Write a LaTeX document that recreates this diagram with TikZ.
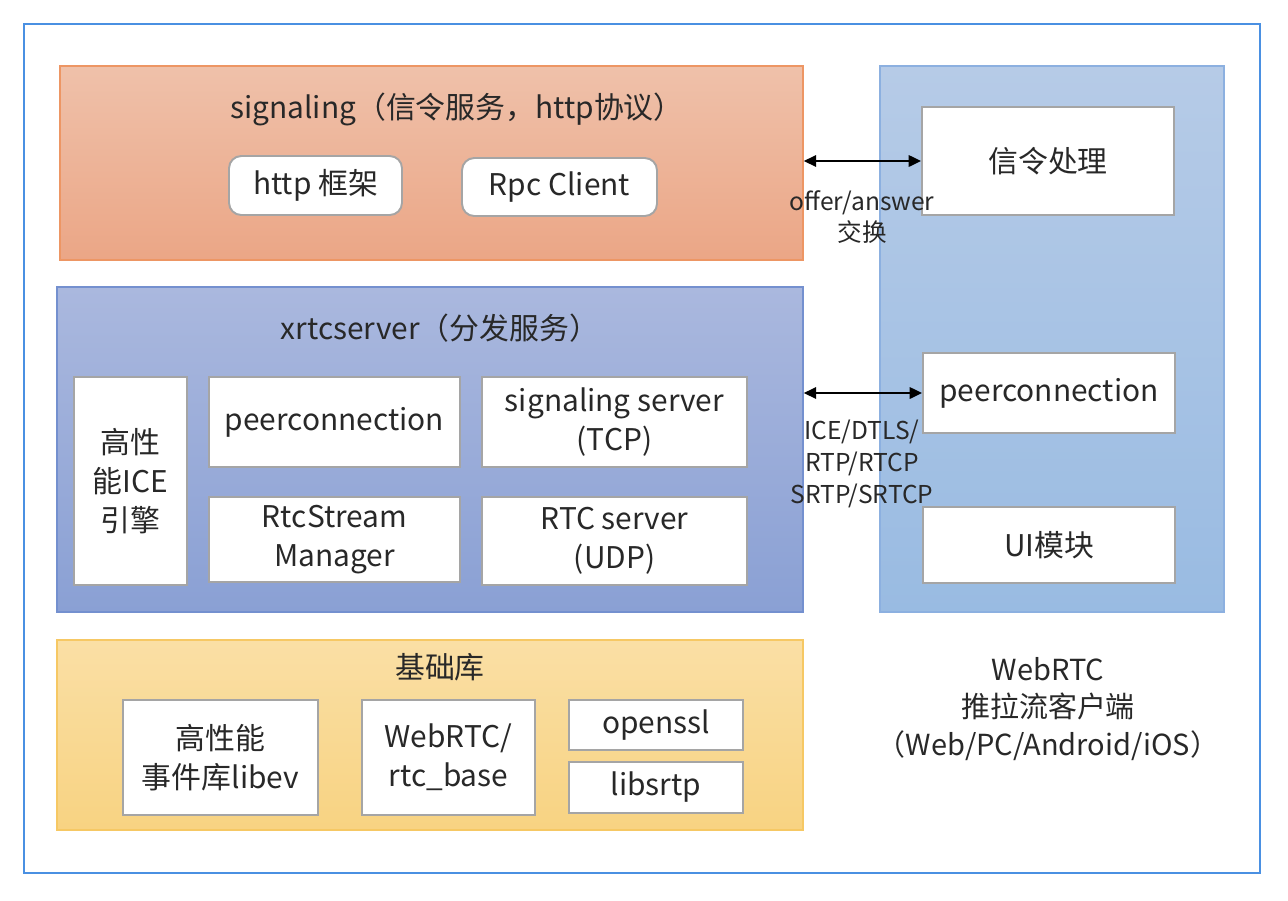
\documentclass[tikz,border=0pt]{standalone}
\usepackage{fontspec}
\setmainfont{Noto Sans CJK SC}
\usetikzlibrary{arrows.meta,calc}
\definecolor{framecol}{RGB}{74,144,226}
\definecolor{sigtop}{RGB}{239,193,170}
\definecolor{sigbot}{RGB}{235,166,134}
\definecolor{sigline}{RGB}{237,150,100}
\definecolor{xrtctop}{RGB}{170,184,222}
\definecolor{xrtcbot}{RGB}{138,160,212}
\definecolor{xrtcline}{RGB}{116,144,207}
\definecolor{basetop}{RGB}{250,223,165}
\definecolor{basebot}{RGB}{248,211,130}
\definecolor{baseline}{RGB}{246,200,100}
\definecolor{clitop}{RGB}{182,203,231}
\definecolor{clibot}{RGB}{153,187,226}
\definecolor{cliline}{RGB}{140,176,224}
\definecolor{boxgray}{RGB}{165,165,165}
\definecolor{txt}{RGB}{40,40,40}
\tikzstyle{layer}=[draw,line width=0.9pt,inner sep=0pt]
\tikzstyle{module}=[draw=boxgray,fill=white,line width=1.1pt,inner sep=0pt,align=center,text=txt,font=\fontsize{17}{22}\selectfont]
\tikzstyle{title}=[text=txt,font=\fontsize{17}{20}\selectfont]
\tikzstyle{link}=[draw,line width=1.1pt,{Triangle[length=7pt,width=6.5pt]}-{Triangle[length=7pt,width=6.5pt]}]
\tikzstyle{proto}=[text=txt,align=center,font=\fontsize{14}{18}\selectfont]

\begin{document}
\begin{tikzpicture}[x=0.02cm,y=-0.02cm]
    \useasboundingbox (0,0) rectangle (1288,900);
    % outer frame
    \node[draw=framecol,line width=1pt,minimum width=1236*0.02cm,minimum height=849*0.02cm] (frame) at (642,448.5) {};

    % the three server layers and the client column
    \node[layer,draw=sigline,top color=sigtop,bottom color=sigbot,minimum width=743*0.02cm,minimum height=194*0.02cm] (sig) at (431.5,163) {};
    \node[layer,draw=xrtcline,top color=xrtctop,bottom color=xrtcbot,minimum width=746*0.02cm,minimum height=325*0.02cm] (xrtc) at (430,449.5) {};
    \node[layer,draw=baseline,top color=basetop,bottom color=basebot,minimum width=746*0.02cm,minimum height=190*0.02cm] (base) at (430,735) {};
    \node[layer,draw=cliline,top color=clitop,bottom color=clibot,minimum width=344*0.02cm,minimum height=546*0.02cm] (client) at (1052,339) {};

    % layer titles
    \node[title] (sigtitle) at (457,109) {signaling（信令服务，http协议）};
    \node[title] (xrtctitle) at (440,328) {xrtcserver（分发服务）};
    \node[title] (basetitle) at (440,667) {基础库};

    % signaling modules
    \foreach \pos/\name/\w/\h/\txt in {{(315.5,185.5)/http/173/59/http 框架},{(559.5,187)/rpc/195/58/Rpc Client}}
        \node[module,rounded corners=7pt,minimum width=\w*0.02cm,minimum height=\h*0.02cm] (\name) at \pos {\txt};

    % xrtcserver modules
    \foreach \pos/\name/\w/\h/\txt in {{(130.5,481)/ice/113/208/高性\\能ICE\\引擎},{(334.5,422)/pc/251/90/peerconnection},
        {(614.5,422)/sigsrv/265/90/signaling server\\(TCP)},{(334.5,539.5)/rsm/251/85/RtcStream\\Manager},
        {(614.5,541)/rtcsrv/265/88/RTC server\\(UDP)}}
        \node[module,minimum width=\w*0.02cm,minimum height=\h*0.02cm] (\name) at \pos {\txt};

    % base libraries
    \foreach \pos/\name/\w/\h/\txt in {{(220.5,757.5)/libev/195/115/高性能\\事件库libev},{(448.5,757.5)/rtcbase/173/115/{WebRTC/\\rtc\_base}},
        {(656,725)/openssl/174/50/openssl},{(656,787.5)/libsrtp/174/51/libsrtp}}
        \node[module,minimum width=\w*0.02cm,minimum height=\h*0.02cm] (\name) at \pos {\txt};

    % client modules
    \foreach \pos/\name/\w/\h/\txt in {{(1048,161)/sigproc/252/108/信令处理},{(1049,393)/cpc/252/80/peerconnection},{(1049,545)/ui/252/76/UI模块}}
        \node[module,minimum width=\w*0.02cm,minimum height=\h*0.02cm] (\name) at \pos {\txt};

    \node[title,align=center,font=\fontsize{16.5}{21.5}\selectfont] (clientlabel) at (1048,709) {WebRTC\\推拉流客户端\\（Web/PC/Android/iOS）};

    % connections between server and client
    \path[link] (sig.east |- sigproc.west) -- (sigproc.west);
    \path[link] (xrtc.east |- cpc.west) -- (cpc.west);
    \node[proto] (offer) at (862,217) {offer/answer\\交换};
    \node[proto] (ice) at (862,464) {ICE/DTLS/\\RTP/RTCP\\SRTP/SRTCP};
\end{tikzpicture}
\end{document}
